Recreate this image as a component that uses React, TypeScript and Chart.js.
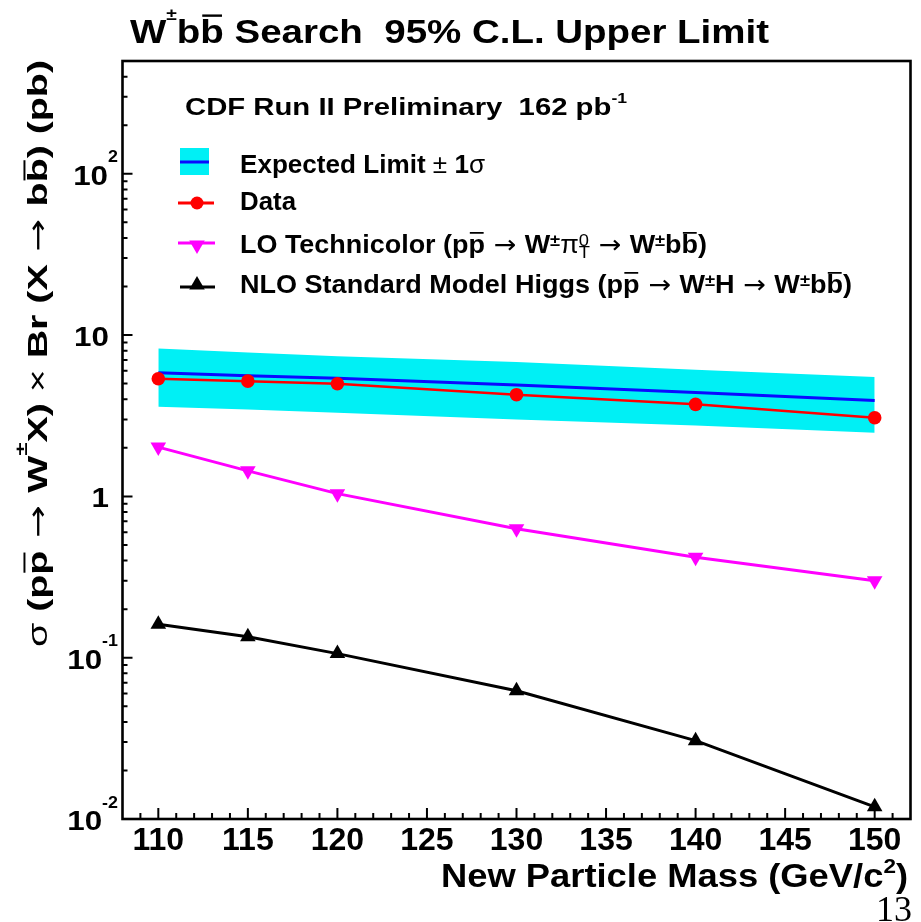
import React, { useEffect, useRef } from 'react';
import { Chart, registerables } from 'chart.js';

Chart.register(...registerables);

// ---------------- data ----------------
const massPoints = [110, 115, 120, 130, 140, 150];
const expectedLimit = [5.83, 5.6, 5.4, 4.9, 4.4, 3.93];
const bandUpper = [8.25, 7.8, 7.4, 6.8, 6.1, 5.5];
const bandLower = [3.6, 3.45, 3.3, 3.0, 2.75, 2.48];
const observedLimit = [5.36, 5.18, 4.99, 4.27, 3.72, 3.07];
const technicolorXsec = [2.02, 1.44, 1.04, 0.63, 0.42, 0.30];
const higgsXsec = [0.161, 0.135, 0.106, 0.0624, 0.0306, 0.0119];

const xMin = 108;
const xMax = 152;
const yMin = 0.01;
const yMax = 500;
const xTickValues = [110, 115, 120, 125, 130, 135, 140, 145, 150];
const yTickLabels = [
  { value: 100, base: '10', exp: '2' },
  { value: 10, base: '10', exp: '' },
  { value: 1, base: '1', exp: '' },
  { value: 0.1, base: '10', exp: '-1' },
  { value: 0.01, base: '10', exp: '-2' },
];

const CYAN = 'rgb(0,240,245)';
const BLUE = '#0a0aff';
const RED = '#ff0000';
const MAGENTA = '#ff00ff';
const BLACK = '#000000';

// ---------------- rich text ----------------
type Seg = { t: string; sup?: string; sub?: string; bar?: boolean; light?: boolean; sym?: boolean };
type RichOpts = {
  align?: 'left' | 'right' | 'center';
  width?: number;
  stretch?: number;
  supScale?: number;
  supRaise?: number;
  subDrop?: number;
  color?: string;
};
const FAMILY = '"Liberation Sans", Arial, Helvetica, sans-serif';
const SYMFAMILY = '"DejaVu Sans", sans-serif';
const fontOf = (size: number, s: Seg) =>
  s.sym ? `normal ${size}px ${SYMFAMILY}` : `${s.light ? 'normal' : 'bold'} ${size}px ${FAMILY}`;

function segWidth(ctx: CanvasRenderingContext2D, s: Seg, size: number, supScale: number) {
  ctx.font = fontOf(size, s);
  const w = ctx.measureText(s.t).width;
  let sw = 0;
  const ss = size * supScale;
  ctx.font = fontOf(ss, s);
  if (s.sup) sw = Math.max(sw, ctx.measureText(s.sup).width);
  if (s.sub) sw = Math.max(sw, ctx.measureText(s.sub).width);
  return w + sw;
}

function drawRich(ctx: CanvasRenderingContext2D, segs: Seg[], x: number, y: number, size: number, o: RichOpts = {}) {
  const supScale = o.supScale ?? 0.6;
  const supRaise = o.supRaise ?? 0.45;
  const subDrop = o.subDrop ?? 0.22;
  let natural = 0;
  for (const s of segs) natural += segWidth(ctx, s, size, supScale);
  const stretch = o.width ? o.width / natural : o.stretch ?? 1;
  const total = natural * stretch;
  const align = o.align ?? 'left';
  const x0 = align === 'left' ? x : align === 'right' ? x - total : x - total / 2;
  ctx.save();
  ctx.translate(x0, y);
  ctx.scale(stretch, 1);
  ctx.textAlign = 'left';
  ctx.textBaseline = 'alphabetic';
  ctx.fillStyle = o.color ?? '#000';
  let cx = 0;
  for (const s of segs) {
    ctx.font = fontOf(size, s);
    const w = ctx.measureText(s.t).width;
    ctx.fillText(s.t, cx, 0);
    if (s.bar) ctx.fillRect(cx + w * 0.08, -size * 0.84, w * 0.84, Math.max(1.5, size * 0.07));
    cx += w;
    const ss = size * supScale;
    ctx.font = fontOf(ss, s);
    let sw = 0;
    if (s.sup) {
      ctx.fillText(s.sup, cx, -size * supRaise);
      sw = Math.max(sw, ctx.measureText(s.sup).width);
    }
    if (s.sub) {
      ctx.fillText(s.sub, cx, size * subDrop);
      sw = Math.max(sw, ctx.measureText(s.sub).width);
    }
    cx += sw;
  }
  ctx.restore();
}

// ---------------- texts ----------------
const titleSegs: Seg[] = [{ t: 'W', sup: '±' }, { t: 'b' }, { t: 'b', bar: true }, { t: ' Search  95% C.L. Upper Limit' }];
const cdfSegs: Seg[] = [{ t: 'CDF Run II Preliminary  162 pb', sup: '-1' }];
const legendRows: { segs: Seg[]; width: number }[] = [
  { segs: [{ t: 'Expected Limit ' }, { t: '±', light: true }, { t: ' 1' }, { t: 'σ', light: true }], width: 245 },
  { segs: [{ t: 'Data' }], width: 56 },
  {
    segs: [
      { t: 'LO Technicolor (p' }, { t: 'p', bar: true }, { t: ' → ', sym: true }, { t: 'W', sup: '±' },
      { t: 'π', sup: '0', sub: 'T', light: true }, { t: ' → ', sym: true }, { t: 'W', sup: '±' },
      { t: 'b' }, { t: 'b', bar: true }, { t: ')' },
    ],
    width: 467,
  },
  {
    segs: [
      { t: 'NLO Standard Model Higgs (p' }, { t: 'p', bar: true }, { t: ' → ', sym: true }, { t: 'W', sup: '±' },
      { t: 'H' }, { t: ' → ', sym: true }, { t: 'W', sup: '±' }, { t: 'b' }, { t: 'b', bar: true }, { t: ')' },
    ],
    width: 612,
  },
];
const yTitleSegs: Seg[] = [
  { t: 'σ', light: true }, { t: ' (p' }, { t: 'p', bar: true }, { t: ' → ', sym: true }, { t: 'W', sup: '±' },
  { t: 'X)' }, { t: ' × ', light: true }, { t: 'Br (X' }, { t: ' → ', sym: true }, { t: 'b' }, { t: 'b', bar: true },
  { t: ') (pb)' },
];
const xTitleSegs: Seg[] = [{ t: 'New Particle Mass (GeV/c', sup: '2' }, { t: ')' }];

// ---------------- markers ----------------
function circleAt(ctx: CanvasRenderingContext2D, x: number, y: number, r: number, c: string) {
  ctx.fillStyle = c;
  ctx.beginPath();
  ctx.arc(x, y, r, 0, Math.PI * 2);
  ctx.fill();
}
function triangleAt(ctx: CanvasRenderingContext2D, x: number, y: number, r: number, c: string, down: boolean) {
  ctx.fillStyle = c;
  ctx.beginPath();
  let rad = down ? Math.PI : 0;
  for (let i = 0; i < 3; i++) {
    const px = x + Math.sin(rad) * r;
    const py = y - Math.cos(rad) * r;
    if (i === 0) ctx.moveTo(px, py);
    else ctx.lineTo(px, py);
    rad += (2 * Math.PI) / 3;
  }
  ctx.closePath();
  ctx.fill();
}

const decorPlugin = {
  id: 'decor',
  afterDraw(chart: any) {
    const ctx: CanvasRenderingContext2D = chart.ctx;
    const { left, right, top, bottom } = chart.chartArea;
    const xs = chart.scales.x;
    const ys = chart.scales.y;
    ctx.save();
    // inward ticks
    ctx.strokeStyle = '#000';
    ctx.lineWidth = 2;
    ctx.beginPath();
    for (let v = xMin + 1; v < xMax; v += 1) {
      const px = xs.getPixelForValue(v);
      const len = v % 5 === 0 ? 11 : 6;
      ctx.moveTo(px, bottom);
      ctx.lineTo(px, bottom - len);
    }
    for (let e = -2; e <= 2; e++) {
      for (let m = 1; m <= 9; m++) {
        const v = m * Math.pow(10, e);
        if (v <= yMin * 1.0001 || v >= yMax * 0.9999) continue;
        const py = ys.getPixelForValue(v);
        const len = m === 1 ? 10 : 5;
        ctx.moveTo(left, py);
        ctx.lineTo(left + len, py);
      }
    }
    ctx.stroke();
    // frame
    ctx.lineWidth = 2.6;
    ctx.strokeRect(left, top, right - left, bottom - top);

    // x tick labels
    for (const v of xTickValues) {
      drawRich(ctx, [{ t: String(v) }], xs.getPixelForValue(v), 850, 32, { align: 'center' });
    }
    // y tick labels
    for (const tl of yTickLabels) {
      const py = ys.getPixelForValue(tl.value);
      const segs: Seg[] = [{ t: tl.base, sup: tl.exp || undefined }];
      drawRich(ctx, segs, tl.exp ? 118 : 109, py + 11, 28, {
        align: 'right',
        stretch: 1.12,
        supScale: 0.57,
        supRaise: 0.8,
      });
    }

    // title
    drawRich(ctx, titleSegs, 130, 43, 34, { width: 639, supRaise: 0.68, supScale: 0.5 });
    // x title
    drawRich(ctx, xTitleSegs, 908, 887, 33, { align: 'right', width: 467, supRaise: 0.42, supScale: 0.62 });
    // y title
    ctx.save();
    ctx.translate(47, 647);
    ctx.rotate(-Math.PI / 2);
    drawRich(ctx, yTitleSegs, 0, 0, 28, { width: 587, supRaise: 0.7, supScale: 0.6 });
    ctx.restore();

    // legend header
    drawRich(ctx, cdfSegs, 185, 115, 24, { width: 442, supRaise: 0.5, supScale: 0.6 });
    // legend entries
    const ds = chart.data.datasets;
    const baselines = [172.7, 210, 253, 293];
    legendRows.forEach((row, i) => {
      drawRich(ctx, row.segs, 240, baselines[i], 25, { width: row.width, supRaise: 0.27, supScale: 0.68, subDrop: 0.2 });
    });
    // symbols
    ctx.fillStyle = ds[0].backgroundColor;
    ctx.fillRect(180, 148, 29, 27);
    ctx.strokeStyle = ds[2].borderColor;
    ctx.lineWidth = 3;
    ctx.beginPath();
    ctx.moveTo(180, 162);
    ctx.lineTo(209, 162);
    ctx.stroke();

    ctx.strokeStyle = ds[3].borderColor;
    ctx.beginPath();
    ctx.moveTo(178, 203);
    ctx.lineTo(214, 203);
    ctx.stroke();
    circleAt(ctx, 197, 203, 6.5, ds[3].backgroundColor);

    ctx.strokeStyle = ds[4].borderColor;
    ctx.beginPath();
    ctx.moveTo(178, 243);
    ctx.lineTo(215, 243);
    ctx.stroke();
    triangleAt(ctx, 197, 245, 9, ds[4].backgroundColor, true);

    ctx.strokeStyle = ds[5].borderColor;
    ctx.beginPath();
    ctx.moveTo(180, 287);
    ctx.lineTo(215, 287);
    ctx.stroke();
    triangleAt(ctx, 197, 285, 9, ds[5].backgroundColor, false);

    // page number
    ctx.fillStyle = '#000';
    ctx.font = '36px "Liberation Serif", "Times New Roman", serif';
    ctx.textAlign = 'left';
    ctx.textBaseline = 'alphabetic';
    ctx.fillText('13', 876, 921);
    ctx.restore();
  },
};

const pts = (ys: number[]) => massPoints.map((x, i) => ({ x, y: ys[i] }));

export default function App() {
  const ref = useRef<HTMLCanvasElement | null>(null);
  useEffect(() => {
    document.body.style.margin = '0';
    document.body.style.background = '#ffffff';
    if (!ref.current) return;
    const chart = new Chart(ref.current, {
      type: 'line',
      data: {
        datasets: [
          {
            label: 'band upper',
            data: pts(bandUpper),
            borderColor: 'rgba(0,0,0,0)',
            borderWidth: 0,
            pointRadius: 0,
            backgroundColor: CYAN,
            fill: '+1',
            order: 10,
          },
          {
            label: 'band lower',
            data: pts(bandLower),
            borderColor: 'rgba(0,0,0,0)',
            borderWidth: 0,
            pointRadius: 0,
            fill: false,
            order: 10,
          },
          {
            label: 'Expected Limit',
            data: pts(expectedLimit),
            borderColor: BLUE,
            borderWidth: 3,
            pointRadius: 0,
            fill: false,
            order: 5,
          },
          {
            label: 'Data',
            data: pts(observedLimit),
            borderColor: RED,
            backgroundColor: RED,
            borderWidth: 2.5,
            pointStyle: 'circle',
            pointRadius: 6.8,
            pointBorderWidth: 0,
            fill: false,
            order: 4,
          },
          {
            label: 'LO Technicolor',
            data: pts(technicolorXsec),
            borderColor: MAGENTA,
            backgroundColor: MAGENTA,
            borderWidth: 3,
            pointStyle: 'triangle',
            pointRotation: 180,
            pointRadius: 9,
            pointBorderWidth: 0,
            fill: false,
            order: 3,
          },
          {
            label: 'NLO SM Higgs',
            data: pts(higgsXsec),
            borderColor: BLACK,
            backgroundColor: BLACK,
            borderWidth: 3,
            pointStyle: 'triangle',
            pointRadius: 9,
            pointBorderWidth: 0,
            fill: false,
            order: 2,
          },
        ],
      },
      options: {
        animation: false,
        responsive: false,
        devicePixelRatio: 1,
        events: [],
        layout: { padding: { left: 122.5, top: 61, right: 10.5, bottom: 103 } },
        elements: { line: { tension: 0 } },
        scales: {
          x: { type: 'linear', min: xMin, max: xMax, display: false },
          y: { type: 'logarithmic', min: yMin, max: yMax, display: false },
        },
        plugins: {
          legend: { display: false },
          tooltip: { enabled: false },
          title: { display: false },
        },
      },
      plugins: [decorPlugin],
    } as any);
    return () => chart.destroy();
  }, []);
  return (
    <div style={{ width: 921, height: 922, background: '#fff' }}>
      <canvas ref={ref} width={921} height={922} style={{ display: 'block', width: 921, height: 922 }} />
    </div>
  );
}
